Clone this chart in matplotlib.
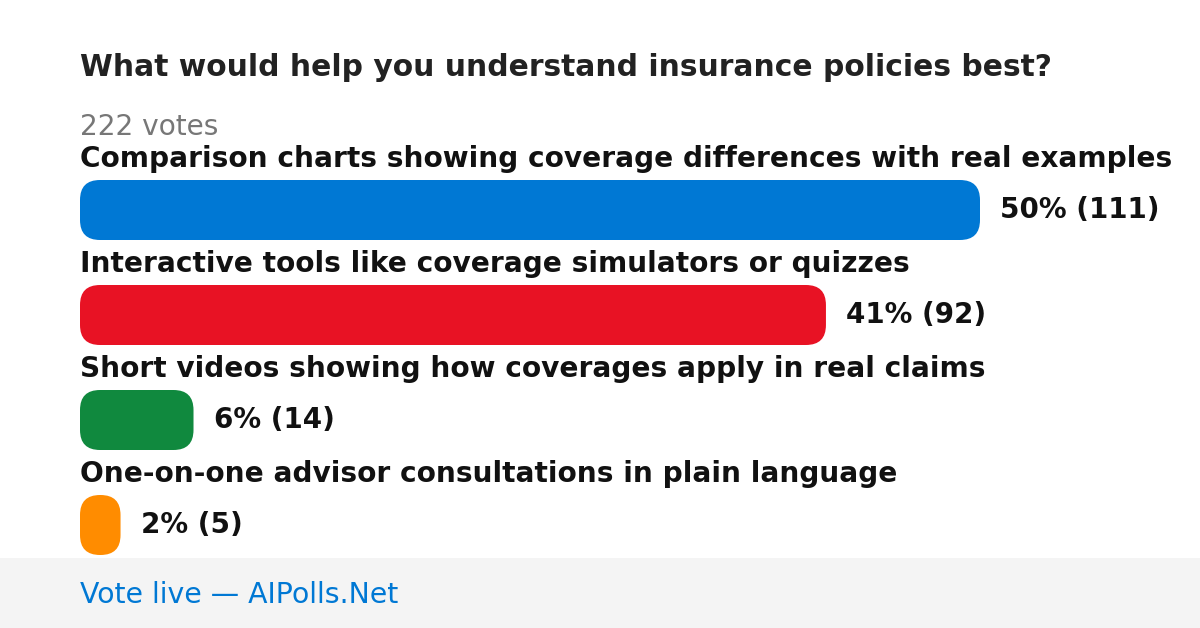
import matplotlib
matplotlib.use('Agg')
import matplotlib.pyplot as plt
from matplotlib.patches import FancyBboxPatch, Rectangle

plt.rcParams['font.family'] = ['DejaVu Sans']

title = 'What would help you understand insurance policies best?'
total_votes = 222
options = [
    'Comparison charts showing coverage differences with real examples',
    'Interactive tools like coverage simulators or quizzes',
    'Short videos showing how coverages apply in real claims',
    'One-on-one advisor consultations in plain language',
]
votes = [111, 92, 14, 5]
colors = ['#0078d4', '#e81224', '#10893e', '#ff8c00']
footer = 'Vote live \u2014 AIPolls.Net'

W, H = 1200, 628
fig = plt.figure(figsize=(W / 100, H / 100), dpi=100)
ax = fig.add_axes([0, 0, 1, 1])
ax.set_xlim(0, W)
ax.set_ylim(H, 0)
ax.axis('off')

left = 80
full_w = 900
bar_h = 60
row_gap = 105
first_bar_top = 180

ax.text(left, 68, title, fontsize=21.4, fontweight='bold', color='#222222', va='center', ha='left')
ax.text(left, 127, f'{total_votes} votes', fontsize=20.2, color='#777777', va='center', ha='left')

max_v = max(votes)
for i, (opt, v, c) in enumerate(zip(options, votes, colors)):
    top = first_bar_top + i * row_gap
    w = full_w * v / max_v
    ax.text(left, top - 21, opt, fontsize=20.2, fontweight='bold', color='#111111', va='center', ha='left')
    r = min(20, w / 2)
    bar = FancyBboxPatch((left, top), w, bar_h, boxstyle=f'round,pad=0,rounding_size={r}',
                         facecolor=c, edgecolor='none')
    ax.add_patch(bar)
    pct = round(100 * v / total_votes)
    ax.text(left + w + 20, top + bar_h / 2, f'{pct}% ({v})', fontsize=20, fontweight='bold',
            color='#111111', va='center', ha='left')

ax.add_patch(Rectangle((0, 558), W, H - 558, facecolor='#f4f4f4', edgecolor='none'))
ax.text(left, 595, footer, fontsize=20.4, color='#0078d4', va='center', ha='left')

fig.savefig('out.png', dpi=100)
plt.close(fig)
